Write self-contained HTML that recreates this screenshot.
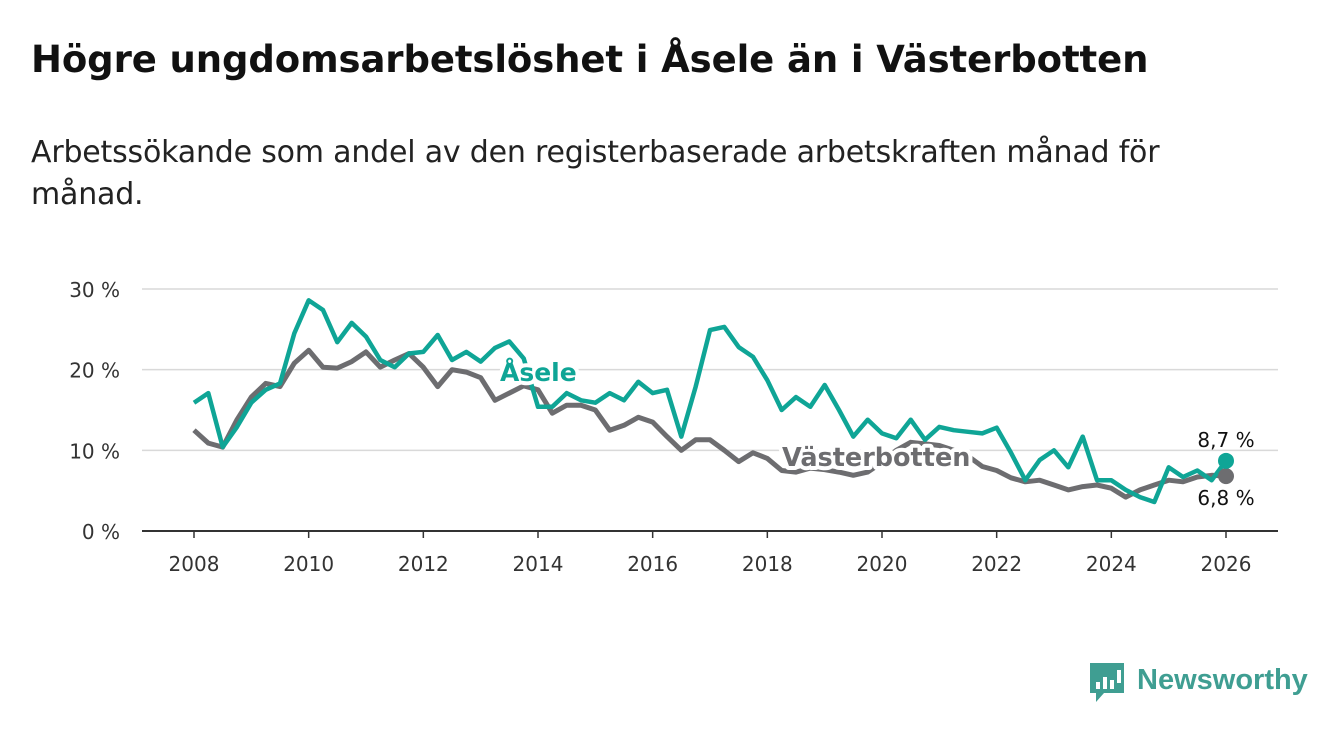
<!DOCTYPE html>
<html><head><meta charset="utf-8">
<style>
body{margin:0;background:#fff;width:1340px;height:734px;overflow:hidden;font-family:"DejaVu Sans","Liberation Sans",sans-serif;}
h1{position:absolute;left:31px;top:38px;margin:0;font-size:37px;font-weight:bold;color:#111;letter-spacing:-0.1px}
p{position:absolute;left:31px;top:132px;margin:0;font-size:30px;line-height:42px;color:#222;width:1280px;letter-spacing:-0.2px}
svg{position:absolute;left:0;top:0}
</style></head><body>
<h1>Högre ungdomsarbetslöshet i Åsele än i Västerbotten</h1>
<p>Arbetssökande som andel av den registerbaserade arbetskraften månad för<br>månad.</p>
<svg id="chart" width="1340" height="734" font-family="DejaVu Sans, sans-serif"></svg>
<script>
const startYear = 2008;
const stepYears = 0.25;
const aseleValues = [15.9,17.1,10.4,12.9,15.9,17.5,18.3,24.5,28.6,27.4,23.4,25.8,24.1,21.2,20.3,22.0,22.2,24.3,21.2,22.2,21.0,22.7,23.5,21.4,15.4,15.4,17.1,16.2,15.9,17.1,16.2,18.5,17.1,17.5,11.7,17.9,24.9,25.3,22.8,21.6,18.7,15.0,16.6,15.4,18.1,15.0,11.7,13.8,12.1,11.5,13.8,11.3,12.9,12.5,12.3,12.1,12.8,9.7,6.3,8.8,10.0,7.9,11.7,6.3,6.3,5.1,4.2,3.6,7.9,6.7,7.5,6.3,8.7];
const vbValues = [12.5,10.9,10.4,13.8,16.6,18.3,17.9,20.8,22.4,20.3,20.2,21.0,22.2,20.3,21.2,22.0,20.3,17.9,20.0,19.7,19.0,16.2,17.1,18.0,17.5,14.6,15.6,15.6,15.0,12.5,13.1,14.1,13.5,11.7,10.0,11.3,11.3,10.0,8.6,9.7,9.0,7.5,7.3,7.8,7.6,7.3,6.9,7.3,8.5,10.0,11.0,10.8,10.6,10.0,9.3,8.0,7.5,6.6,6.1,6.3,5.7,5.1,5.5,5.7,5.3,4.2,5.1,5.7,6.3,6.1,6.7,6.9,6.8];
const yTicks = [0,10,20,30];
const yTickLabels = ["0 %","10 %","20 %","30 %"];
const xTicks = [2008,2010,2012,2014,2016,2018,2020,2022,2024,2026];

const NS="http://www.w3.org/2000/svg";
const svg=document.getElementById('chart');
const X0=194,X1=1226,Y0=531,Y30=289;
const xs=y=>X0+(y-2008)/(2026-2008)*(X1-X0);
const ys=v=>Y0-v/30*(Y0-Y30);
function mk(t,a){const e=document.createElementNS(NS,t);for(const k in a)e.setAttribute(k,a[k]);svg.appendChild(e);return e;}

yTicks.forEach((t,i)=>{
  const g=mk('line',{x1:142,x2:1278,y1:ys(t),y2:ys(t),stroke:t===0?'#333':'#d9d9d9','stroke-width':t===0?2:1.5});
  
  
  const l=mk('text',{x:120,y:ys(t)+8,'text-anchor':'end','font-size':20,fill:'#333'});
  l.textContent=yTickLabels[i];
  
  
});
xTicks.forEach(t=>{
  const tk=mk('line',{x1:xs(t),x2:xs(t),y1:531,y2:538,stroke:'#333','stroke-width':1.5});
  
  
  const l=mk('text',{x:xs(t),y:571,'text-anchor':'middle','font-size':20,fill:'#333'});
  l.textContent=t;
  
  
});
function path(vals){return vals.map((v,i)=>(i?'L':'M')+xs(startYear+i*stepYears).toFixed(1)+','+ys(v).toFixed(1)).join('');}
const vb=mk('path',{d:path(vbValues),fill:'none',stroke:'#6d6d70','stroke-width':5,'stroke-linejoin':'round'});


const as=mk('path',{d:path(aseleValues),fill:'none',stroke:'#0fa596','stroke-width':4.5,'stroke-linejoin':'round'});



const last=aseleValues.length-1, lastX=xs(startYear+last*stepYears);
const d1=mk('circle',{cx:lastX,cy:ys(vbValues[last]),r:8,fill:'#6d6d70'});


const d2=mk('circle',{cx:lastX,cy:ys(aseleValues[last]),r:8,fill:'#0fa596'});


const fmt=v=>v.toFixed(1).replace('.',',')+' %';
const t1=mk('text',{x:lastX,y:ys(aseleValues[last])-14,'text-anchor':'middle','font-size':20,fill:'#111'});
t1.textContent=fmt(aseleValues[last]);


const t2=mk('text',{x:lastX,y:ys(vbValues[last])+29,'text-anchor':'middle','font-size':20,fill:'#111'});
t2.textContent=fmt(vbValues[last]);



const la=mk('text',{x:500,y:381,'font-size':25,'font-weight':'bold',fill:'#0fa596',stroke:'#fff','stroke-width':8,'paint-order':'stroke','stroke-linejoin':'round'});
la.textContent='Åsele';


const lv=mk('text',{x:782,y:466,'font-size':25.5,'font-weight':'bold',fill:'#6d6d70',stroke:'#fff','stroke-width':8,'paint-order':'stroke','stroke-linejoin':'round'});
lv.textContent='Västerbotten';


</script>
<svg width="1340" height="734" style="pointer-events:none">
  <path d="M1090 663 h34 v30 h-20 l-8 9 v-9 h-6 z" fill="#3f9e92"/>
  <rect x="1096" y="682" width="4" height="7" fill="#fff"/>
  <rect x="1103" y="677" width="4" height="12" fill="#fff"/>
  <rect x="1110" y="680" width="4" height="9" fill="#fff"/>
  <rect x="1117" y="670" width="4" height="13" fill="#fff"/>
  <text x="1137" y="689" font-size="29" font-weight="bold" fill="#3f9e92" font-family="Liberation Sans, sans-serif">Newsworthy</text>
</svg>
</body></html>
